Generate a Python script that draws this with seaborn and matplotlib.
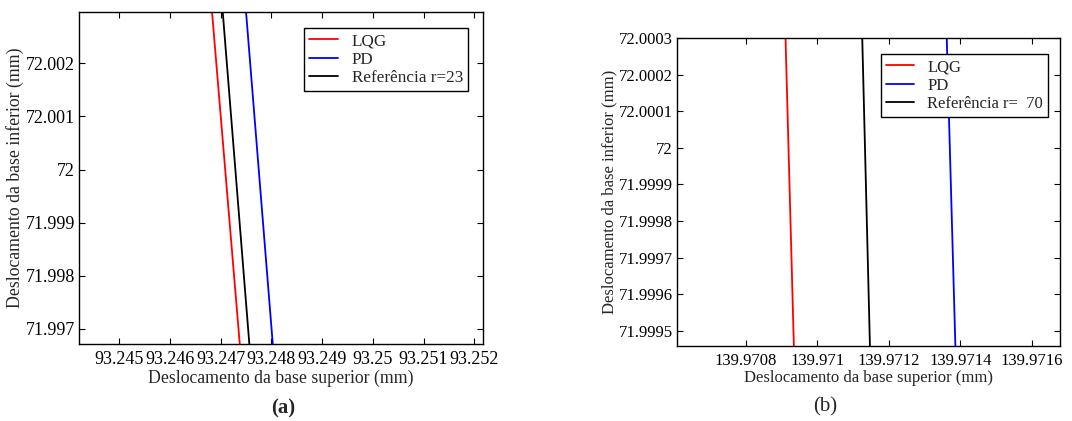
import matplotlib
matplotlib.use("Agg")
import matplotlib.pyplot as plt
import seaborn as sns
import pandas as pd

# Panel (a): line endpoints (top, bottom) of each trajectory
series = ["LQG", "PD", "Referência r=23"]
a_y = [72.00297, 71.99672]
a_x_lqg = [93.246828, 93.247375]
a_x_pd = [93.247499, 93.248026]
a_x_ref = [93.247039, 93.247564]
a_xticks = [93.245, 93.246, 93.247, 93.248, 93.249, 93.25, 93.251, 93.252]
a_xticklabels = ["93.245", "93.246", "93.247", "93.248", "93.249", "93.25", "93.251", "93.252"]
a_yticks = [71.997, 71.998, 71.999, 72.0, 72.001, 72.002]
a_yticklabels = ["71.997", "71.998", "71.999", "72", "72.001", "72.002"]
a_xlim = (93.244205, 93.252172)
a_ylim = (71.996717, 72.002966)

# Panel (b)
series_b = ["LQG", "PD", "Referência r=  70"]
b_y = [72.0003, 71.99946]
b_x_lqg = [139.9709112, 139.9709345]
b_x_pd = [139.9713622, 139.9713863]
b_x_ref = [139.9711258, 139.9711473]
b_xticks = [139.9708, 139.971, 139.9712, 139.9714, 139.9716]
b_xticklabels = ["139.9708", "139.971", "139.9712", "139.9714", "139.9716"]
b_yticks = [71.9995, 71.9996, 71.9997, 71.9998, 71.9999, 72.0, 72.0001, 72.0002, 72.0003]
b_yticklabels = ["71.9995", "71.9996", "71.9997", "71.9998", "71.9999", "72",
                 "72.0001", "72.0002", "72.0003"]
b_xlim = (139.9706076, 139.971679)
b_ylim = (71.999459, 72.0003)

colors = ["#ff0000", "#0000ff", "#000000"]

sns.set_style("ticks")
plt.rcParams["font.family"] = ["Liberation Serif", "DejaVu Serif"]
plt.rcParams["axes.linewidth"] = 1.0

W, H = 1072, 421
fig = plt.figure(figsize=(W / 100, H / 100), dpi=100)


def px_axes(x0, y0, x1, y1):
    return fig.add_axes([x0 / W, 1 - y1 / H, (x1 - x0) / W, (y1 - y0) / H])


def panel(ax, names, y, xs, xticks, xtl, yticks, ytl, xlim, ylim, legend_anchor,
          fs_tick, fs_label, fs_leg):
    rows = []
    for name, xv in zip(names, xs):
        for xx, yy in zip(xv, y):
            rows.append({"x": xx, "y": yy, "serie": name})
    df = pd.DataFrame(rows)
    sns.lineplot(data=df, x="x", y="y", hue="serie", hue_order=names,
                 palette=dict(zip(names, colors)), sort=False, estimator=None,
                 linewidth=1.3, ax=ax)
    ax.set_xlim(*xlim)
    ax.set_ylim(*ylim)
    ax.set_xticks(xticks)
    ax.set_xticklabels(xtl)
    ax.set_yticks(yticks)
    ax.set_yticklabels(ytl)
    ax.tick_params(direction="in", top=True, right=True, length=4, width=0.8,
                   labelsize=fs_tick, colors="black")
    ax.tick_params(axis="x", pad=5)
    ax.tick_params(axis="y", pad=3)
    for s in ax.spines.values():
        s.set_visible(True)
        s.set_color("black")
    ax.set_xlabel("Deslocamento da base superior (mm)", fontsize=fs_label, labelpad=1)
    ax.set_ylabel("Deslocamento da base inferior (mm)", fontsize=fs_label, labelpad=1)
    leg = ax.legend(loc="upper right", bbox_to_anchor=legend_anchor, frameon=True,
                    fancybox=False, edgecolor="black", framealpha=1,
                    handlelength=1.7, handletextpad=0.8, borderpad=0.3,
                    labelspacing=0.15, borderaxespad=0, fontsize=fs_leg)
    leg.get_frame().set_linewidth(1.0)
    for line in leg.get_lines():
        line.set_linewidth(1.3)


ax1 = px_axes(79, 12, 483, 344)
panel(ax1, series, a_y, [a_x_lqg, a_x_pd, a_x_ref], a_xticks, a_xticklabels,
      a_yticks, a_yticklabels, a_xlim, a_ylim, (0.963, 0.952), 13, 12.8, 12.3)

ax2 = px_axes(677, 38, 1060, 346)
panel(ax2, series_b, b_y, [b_x_lqg, b_x_pd, b_x_ref], b_xticks, b_xticklabels,
      b_yticks, b_yticklabels, b_xlim, b_ylim, (0.969, 0.947), 12, 12, 12)

fig.text(283 / W, 1 - 408 / H, "(a)", ha="center", va="center", fontsize=15,
         fontweight="bold")
fig.text(825 / W, 1 - 407 / H, "(b)", ha="center", va="center", fontsize=15)

fig.savefig("out.png", dpi=100)
